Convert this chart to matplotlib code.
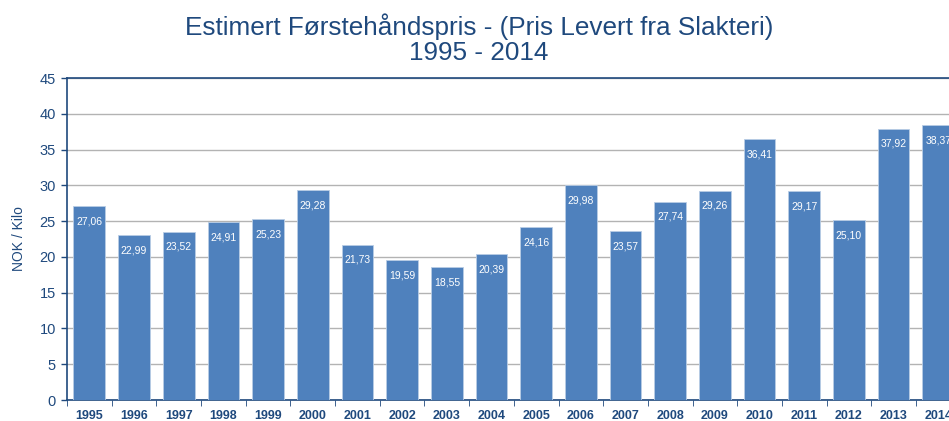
import matplotlib.pyplot as plt
import numpy as np

plt.rcParams['font.family'] = ['Liberation Sans', 'DejaVu Sans']

years = ['1995', '1996', '1997', '1998', '1999', '2000', '2001', '2002', '2003', '2004',
         '2005', '2006', '2007', '2008', '2009', '2010', '2011', '2012', '2013', '2014']
prices = [27.06, 22.99, 23.52, 24.91, 25.23, 29.28, 21.73, 19.59, 18.55, 20.39,
          24.16, 29.98, 23.57, 27.74, 29.26, 36.41, 29.17, 25.10, 37.92, 38.37]

dark_blue = '#1F497D'
bar_color = '#4F81BD'

W, H = 949, 421
fig = plt.figure(figsize=(W / 100, H / 100), dpi=100)
# axes box in pixels: left 67, right 949, y=0 at 400, y=45 at 78
ax = fig.add_axes([67 / W, (H - 400) / H, (W - 67) / W, (400 - 78) / H])

x = np.arange(len(years))
ax.bar(x, prices, width=0.71, color=bar_color, edgecolor='#B9CDE5', linewidth=0.6, zorder=3)

for xi, v in zip(x, prices):
    ax.annotate(f'{v:.2f}'.replace('.', ','), (xi, v), xytext=(0, -11), textcoords='offset points',
                ha='center', va='center', color='white', fontsize=7.5, zorder=4)

ax.set_yticks(np.arange(0, 46, 5))
ax.set_xticks(x)
ax.set_xticklabels(years, fontweight='bold', fontsize=9, color=dark_blue)
ax.set_xticks(np.arange(-0.5, len(years), 1), minor=True)
# limits after the ticks, so the last bar is cut by the figure edge like the original
ax.set_xlim(-0.5, (W - 89) / 44.7)
ax.set_ylim(0, 45)
ax.tick_params(axis='x', which='major', length=0, pad=7)
ax.tick_params(axis='x', which='minor', length=4, color=dark_blue, direction='out')
ax.tick_params(axis='y', labelsize=10.5, colors=dark_blue, length=4, width=1, pad=4)

ax.grid(axis='y', color='#B3B3B3', linewidth=1, zorder=0)
ax.spines['right'].set_visible(False)
for s in ['left', 'bottom', 'top']:
    ax.spines[s].set_color(dark_blue)
    ax.spines[s].set_linewidth(1.2)

ax.set_ylabel('NOK / Kilo', fontsize=10, color=dark_blue, labelpad=10)

fig.text(479 / W, 1 - 27 / H, 'Estimert Førstehåndspris - (Pris Levert fra Slakteri)',
         ha='center', va='center', fontsize=18.8, color=dark_blue)
fig.text(479 / W, 1 - 53 / H, '1995 - 2014', ha='center', va='center', fontsize=18.8, color=dark_blue)

fig.savefig('out.png', dpi=100)
